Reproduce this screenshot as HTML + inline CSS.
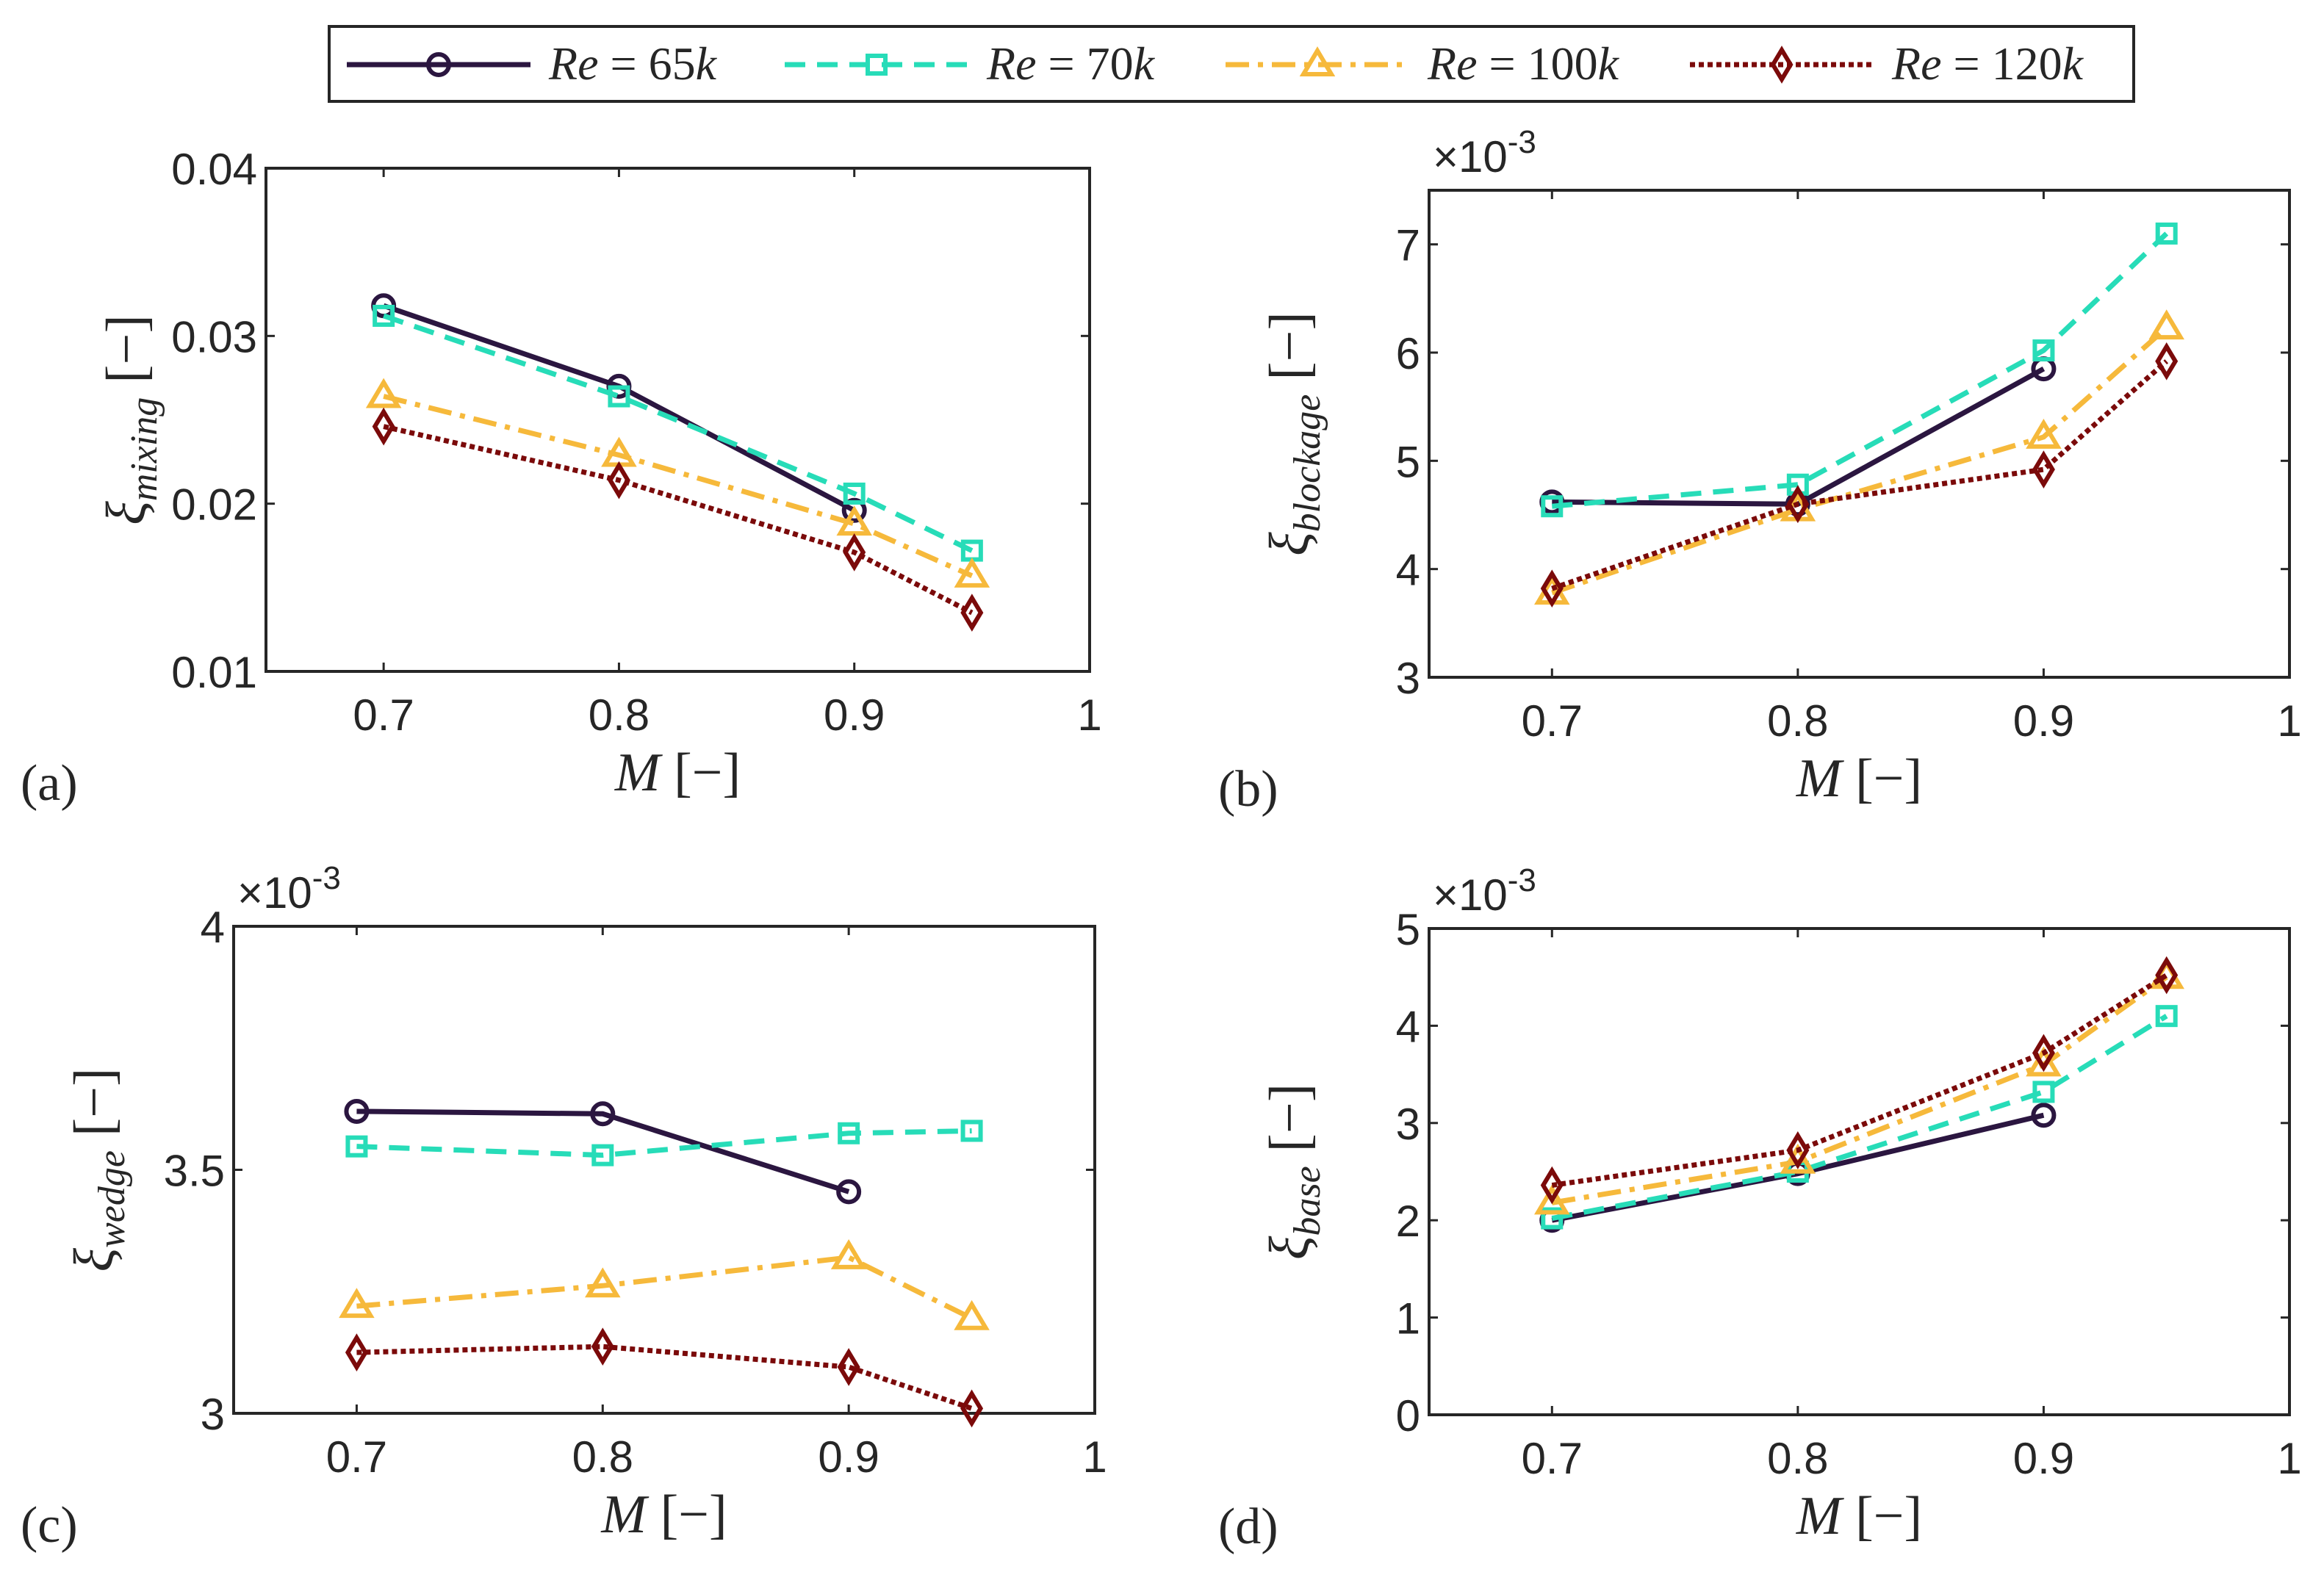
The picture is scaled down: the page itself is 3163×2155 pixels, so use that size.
<!DOCTYPE html>
<html><head><meta charset="utf-8"><style>
html,body{margin:0;padding:0;background:#fff;}
svg{display:block;}
text{font-family:"Liberation Sans",sans-serif;fill:#262626;}
.serif{font-family:"Liberation Serif",serif;}
</style></head><body>
<svg id="fig" width="3163" height="2155" viewBox="0 0 3163 2155" xmlns="http://www.w3.org/2000/svg">
<g id="legend"></g>
</svg>
<script>
const mach = [0.7, 0.8, 0.9, 0.95];
const seriesNames = ['Re = 65k', 'Re = 70k', 'Re = 100k', 'Re = 120k'];
const aRe65 = [0.0318, 0.0270, 0.0196];
const aRe70 = [0.0312, 0.0264, 0.0206, 0.0172];
const aRe100 = [0.0264, 0.0229, 0.0188, 0.0157];
const aRe120 = [0.0246, 0.0214, 0.0171, 0.0135];
const bRe65 = [4.62, 4.60, 5.85];
const bRe70 = [4.58, 4.78, 6.02, 7.10];
const bRe100 = [3.78, 4.55, 5.22, 6.23];
const bRe120 = [3.82, 4.60, 4.92, 5.92];
const cRe65 = [3.62, 3.615, 3.455];
const cRe70 = [3.548, 3.53, 3.575, 3.58];
const cRe100 = [3.22, 3.262, 3.32, 3.195];
const cRe120 = [3.125, 3.137, 3.095, 3.01];
const dRe65 = [2.0, 2.48, 3.08];
const dRe70 = [2.02, 2.5, 3.32, 4.1];
const dRe100 = [2.18, 2.6, 3.6, 4.5];
const dRe120 = [2.36, 2.72, 3.72, 4.52];
const xTicks = [0.7, 0.8, 0.9, 1];
const aYTicks = [0.01, 0.02, 0.03, 0.04];
const aYLabels = ['0.01', '0.02', '0.03', '0.04'];
const bYTicks = [3, 4, 5, 6, 7];
const cYTicks = [3, 3.5, 4];
const dYTicks = [0, 1, 2, 3, 4, 5];

const NS = 'http://www.w3.org/2000/svg';
const svg = document.getElementById('fig');
const colors = ['#2b1640', '#27dcb8', '#f6b93b', '#7b0a0a'];
const dashes = ['', '28 16', '32 12 7 12', '7 5'];
function mk(tag, attrs, parent) {
  const e = document.createElementNS(NS, tag);
  for (const k in attrs) e.setAttribute(k, attrs[k]);
  (parent || svg).appendChild(e);
  return e;
}
function marker(i, x, y, g) {
  const c = colors[i];
  let m;
  if (i === 0) m = mk('circle', {cx: x, cy: y, r: 14, fill: 'none', stroke: c, 'stroke-width': 6}, g);
  else if (i === 1) m = mk('rect', {x: x - 12, y: y - 12, width: 24, height: 24, fill: 'none', stroke: c, 'stroke-width': 6}, g);
  else if (i === 2) m = mk('polygon', {points: `${x},${y - 19} ${x + 19},${y + 13} ${x - 19},${y + 13}`, fill: 'none', stroke: c, 'stroke-width': 6}, g);
  else m = mk('polygon', {points: `${x},${y - 20} ${x + 12},${y} ${x},${y + 20} ${x - 12},${y}`, fill: 'none', stroke: c, 'stroke-width': 6}, g);
  
  
}

function panel(p) {
  const g = mk('g', {});
  
  
  const xs = v => p.L + (v - 0.65) / 0.35 * (p.R - p.L);
  const ys = v => p.B - (v - p.ymin) / (p.ymax - p.ymin) * (p.B - p.T);
  const box = mk('rect', {x: p.L, y: p.T, width: p.R - p.L, height: p.B - p.T, fill: 'none', stroke: '#262626', 'stroke-width': 4}, g);
  
  
  xTicks.forEach(t => {
    const x = xs(t);
    mk('line', {x1: x, x2: x, y1: p.B, y2: p.B - 12, stroke: '#262626', 'stroke-width': 3}, g);
    mk('line', {x1: x, x2: x, y1: p.T, y2: p.T + 12, stroke: '#262626', 'stroke-width': 3}, g);
    const tx = mk('text', {x: x, y: p.B + 80, 'font-size': 60, 'text-anchor': 'middle'}, g);
    tx.textContent = String(t);
    
    
  });
  p.yt.forEach((t, k) => {
    const y = ys(t);
    mk('line', {x1: p.L, x2: p.L + 12, y1: y, y2: y, stroke: '#262626', 'stroke-width': 3}, g);
    mk('line', {x1: p.R, x2: p.R - 12, y1: y, y2: y, stroke: '#262626', 'stroke-width': 3}, g);
    const tx = mk('text', {x: p.L - 12, y: y + 22, 'font-size': 60, 'text-anchor': 'end'}, g);
    tx.textContent = p.yl ? p.yl[k] : String(t);
    
    
  });
  if (p.exp) {
    const ex = mk('text', {x: p.L + 5, y: p.T - 25, 'font-size': 60}, g);
    ex.innerHTML = '×10<tspan dy="-26" font-size="44">-3</tspan>';
    
    
  }
  const xl = mk('text', {x: (p.L + p.R) / 2, y: p.B + 162, 'font-size': 74, 'text-anchor': 'middle', class: 'serif', fill: '#555'}, g);
  xl.innerHTML = '<tspan font-style="italic">M</tspan> [−]';
  
  
  const cy = (p.T + p.B) / 2;
  const yl = mk('text', {x: 0, y: 0, 'font-size': 76, 'text-anchor': 'middle', class: 'serif', fill: '#555', transform: `translate(${p.L - 165},${cy}) rotate(-90)`}, g);
  yl.innerHTML = `<tspan font-style="italic">ξ</tspan><tspan font-style="italic" font-size="52" dy="16">${p.sub}</tspan><tspan dy="-16"> [−]</tspan>`;
  
  
  const pl = mk('text', {x: p.lx, y: p.B + 175, 'font-size': 70, class: 'serif', fill: '#000'}, g);
  pl.textContent = '(' + p.id + ')';
  
  
  p.data.forEach((arr, i) => {
    const pts = arr.map((v, j) => xs(mach[j]) + ',' + ys(v)).join(' ');
    const ln = mk('polyline', {points: pts, fill: 'none', stroke: colors[i], 'stroke-width': 7, 'stroke-dasharray': dashes[i]}, g);
    
    
    arr.forEach((v, j) => marker(i, xs(mach[j]), ys(v), g));
  });
}
panel({id: 'a', L: 362, R: 1483, T: 229, B: 914, ymin: 0.01, ymax: 0.04, yt: aYTicks, yl: aYLabels, sub: 'mixing', lx: 28, data: [aRe65, aRe70, aRe100, aRe120]});
panel({id: 'b', L: 1945, R: 3116, T: 259, B: 922, ymin: 3, ymax: 7.5, yt: bYTicks, sub: 'blockage', lx: 1658, exp: true, data: [bRe65, bRe70, bRe100, bRe120]});
panel({id: 'c', L: 318, R: 1490, T: 1261, B: 1924, ymin: 3, ymax: 4, yt: cYTicks, sub: 'wedge', lx: 28, exp: true, data: [cRe65, cRe70, cRe100, cRe120]});
panel({id: 'd', L: 1945, R: 3116, T: 1264, B: 1926, ymin: 0, ymax: 5, yt: dYTicks, sub: 'base', lx: 1658, exp: true, data: [dRe65, dRe70, dRe100, dRe120]});

const lg = document.getElementById('legend');
const lb = mk('rect', {x: 448, y: 36, width: 2456, height: 102, fill: '#fff', stroke: '#262626', 'stroke-width': 4}, lg);


const lx0 = [472, 1068, 1668, 2300];
seriesNames.forEach((n, i) => {
  const g = mk('g', {}, lg);
  
  
  const x = lx0[i];
  mk('line', {x1: x, x2: x + 250, y1: 88, y2: 88, stroke: colors[i], 'stroke-width': 7, 'stroke-dasharray': dashes[i]}, g);
  marker(i, x + 125, 88, g);
  const t = mk('text', {x: x + 275, y: 108, 'font-size': 64, class: 'serif', fill: '#111'}, g);
  const parts = n.split(' = ');
  t.innerHTML = `<tspan font-style="italic">Re</tspan> = ${parts[1].replace('k', '')}<tspan font-style="italic">k</tspan>`;
});
</script>
</body></html>
